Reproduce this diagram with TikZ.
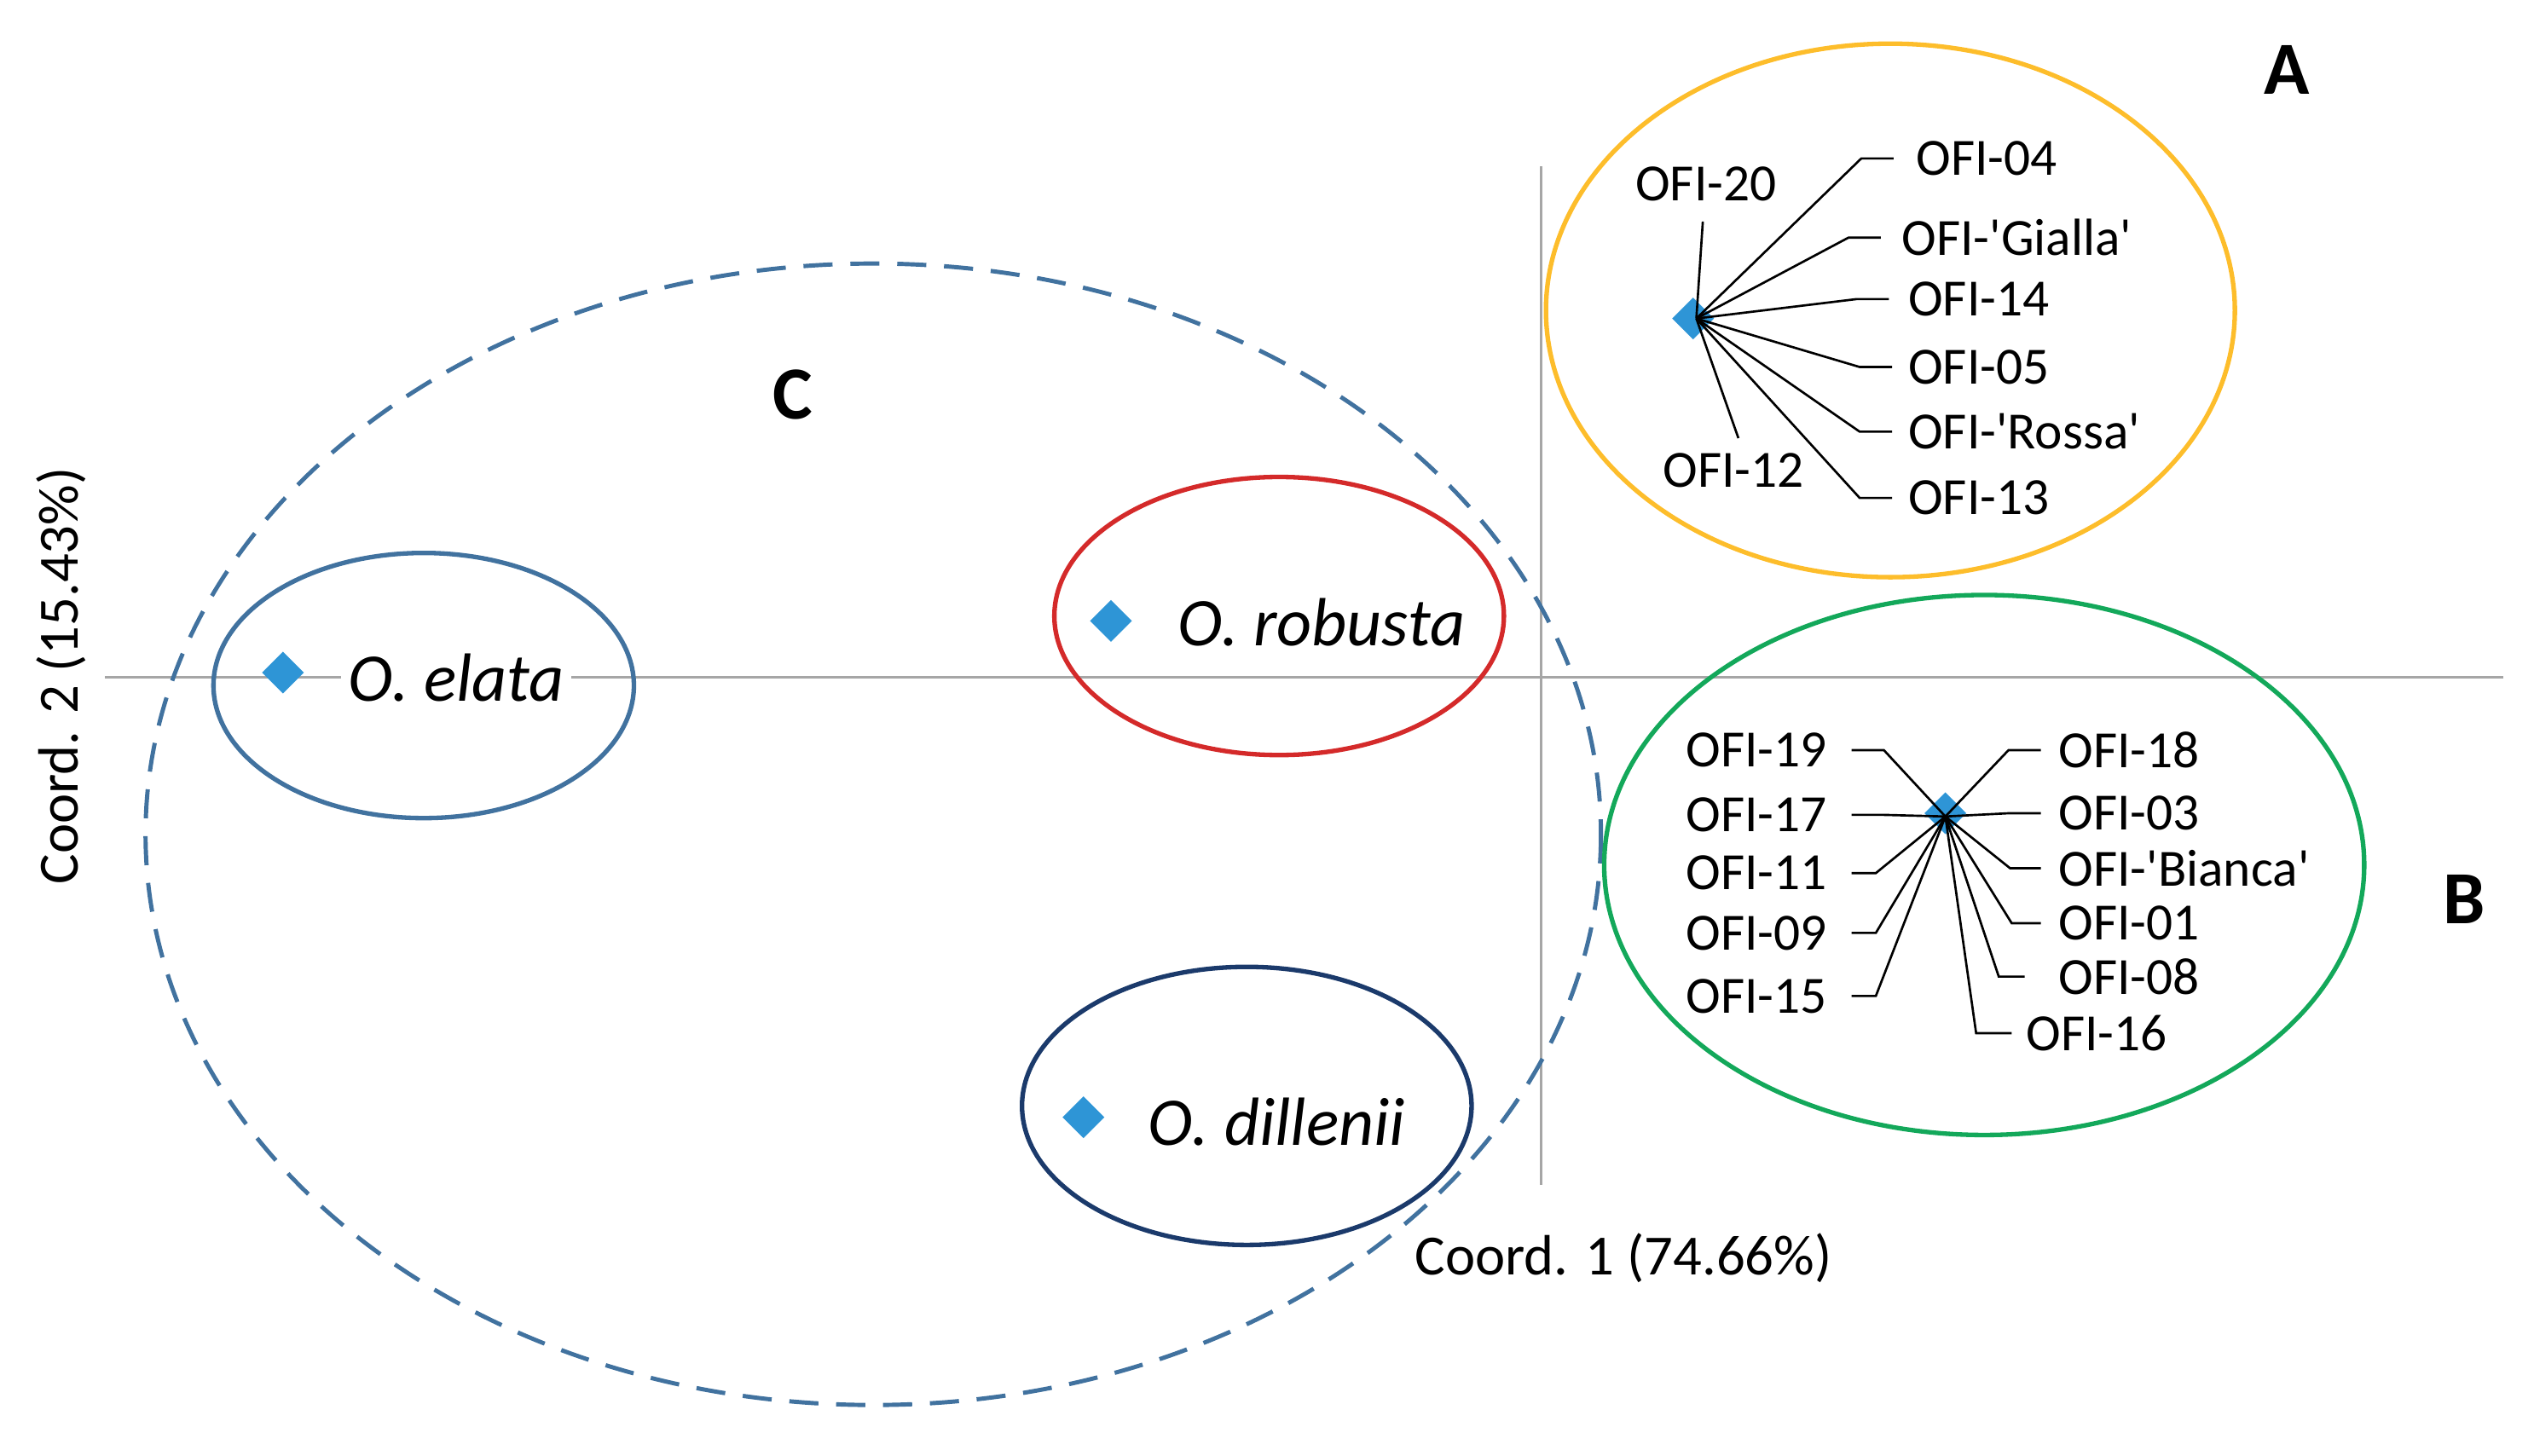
\documentclass[tikz,border=0pt]{standalone}
\usepackage{fontspec}
\setmainfont{Carlito}
\usetikzlibrary{shapes.geometric}
\newcommand{\sq}{\textquotesingle}
\definecolor{dia}{HTML}{2E95D6}
\definecolor{cblue}{HTML}{41729F}
\definecolor{cred}{HTML}{D42A2A}
\definecolor{cnavy}{HTML}{1B3A6B}
\definecolor{cyel}{HTML}{FDBD2B}
\definecolor{cgrn}{HTML}{13A85A}
\begin{document}
\begin{tikzpicture}[x=0.5mm,y=-0.5mm,
  pt/.style={diamond,fill=dia,inner sep=0,minimum size=13mm},
  grp/.style={line width=1.4mm},
  ofi/.style={font=\fontsize{46}{50}\selectfont,inner sep=0},
  spec/.style={font=\fontsize{60}{66}\selectfont\itshape,inner sep=0,anchor=west},
  lead/.style={line width=0.7mm, black},
  big/.style={font=\fontsize{66}{70}\selectfont\bfseries,inner sep=0},
  ax/.style={draw=gray!70,line width=0.7mm}]
\useasboundingbox (0,0) rectangle (1567,900.5);
% axes
\coordinate (xl) at (65,419); \coordinate (xr) at (1548,419);
\coordinate (yt) at (953,103); \coordinate (yb) at (953,733);
\draw[ax] (xl) -- (xr);
\draw[ax] (yt) -- (yb);
\node[font=\fontsize{50}{54}\selectfont,inner sep=0] (cx) at (1004,778) {Coord. 1 (74.66\%)};
\node[font=\fontsize{50}{54}\selectfont,inner sep=0,rotate=90] (cy) at (38,418) {Coord. 2 (15.43\%)};
% group ellipses
\draw[cblue,line width=1.3mm,dash pattern=on 9mm off 5.5mm] (540,516) ellipse [x radius=450,y radius=353];
\draw[cblue,grp] (262,424) ellipse [x radius=130,y radius=82];
\draw[cred,grp] (791,381) ellipse [x radius=139,y radius=86];
\draw[cnavy,grp] (771,684) ellipse [x radius=139,y radius=86];
\draw[cyel,grp] (1169,192) ellipse [x radius=213,y radius=165];
\draw[cgrn,grp] (1227,535) ellipse [x radius=235,y radius=167];
% species
\node[pt] (el) at (175,416) {};
\node[spec,fill=white,inner xsep=2mm] (elt) at (211,419) {O. elata};
\node[pt] (ro) at (687,384) {};
\node[spec] (rot) at (728,385) {O. robusta};
\node[pt] (di) at (670,691) {};
\node[spec] (dit) at (710,694) {O. dillenii};
% group letters
\node[big] (A) at (1414,43) {A};
\node[big] (B) at (1524,556) {B};
\node[big] (C) at (490,244) {C};
% cluster A
\node[pt] (pa) at (1047,197) {};
\coordinate (ac) at (1049,197);
\node[ofi] (a20) at (1055,114) {OFI-20};
\node[ofi] (a12) at (1072,291) {OFI-12};
\coordinate (e20) at (1053,137); \coordinate (e12) at (1075,271);
\draw[lead] (ac) -- (e20); \draw[lead] (ac) -- (e12);
\foreach \n/\t/\ex/\y/\lx in {04/OFI-04/1151/98/1185, gi/OFI-\sq Gialla\sq/1143/147/1176, 14/OFI-14/1148/185/1180, 05/OFI-05/1150/227/1180, ro/OFI-\sq Rossa\sq/1150/267/1180, 13/OFI-13/1150/308/1180}{
  \node[ofi,anchor=west] (a\n) at (\lx,\y) {\t};
  \coordinate (ea\n) at (\ex,\y);
  \coordinate (fa\n) at (\ex+20,\y);
  \draw[lead] (ac) -- (ea\n) -- (fa\n);
}
% cluster B
\node[pt] (pb) at (1203,503) {};
\coordinate (bc) at (1203,505);
\foreach \n/\t/\y/\ex in {19/OFI-19/464/1165, 17/OFI-17/504/1165, 11/OFI-11/540/1160, 09/OFI-09/577/1160, 15/OFI-15/616/1160}{
  \node[ofi,anchor=east] (b\n) at (1130,\y) {\t};
  \coordinate (eb\n) at (\ex,\y);
  \coordinate (fb\n) at (1145,\y);
  \draw[lead] (bc) -- (eb\n) -- (fb\n);
}
\foreach \n/\t/\y/\ex/\fx/\lx in {18/OFI-18/464/1242/1262/1273, 03/OFI-03/503/1242/1262/1273, bi/OFI-\sq Bianca\sq/537/1243/1262/1273, 01/OFI-01/571/1244/1262/1273, 08/OFI-08/604/1236/1252/1273, 16/OFI-16/639/1222/1244/1253}{
  \node[ofi,anchor=west] (b\n) at (\lx,\y) {\t};
  \coordinate (eb\n) at (\ex,\y);
  \coordinate (fb\n) at (\fx,\y);
  \draw[lead] (bc) -- (eb\n) -- (fb\n);
}
\end{tikzpicture}
\end{document}
